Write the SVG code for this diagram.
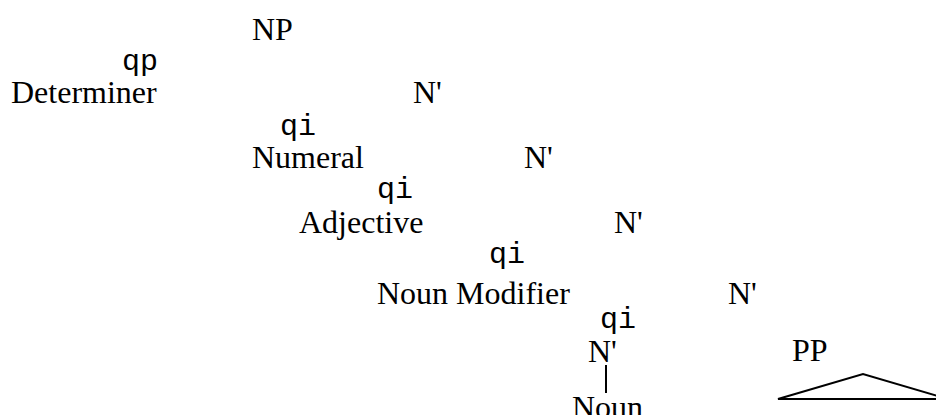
<svg xmlns="http://www.w3.org/2000/svg" width="936" height="415" viewBox="0 0 936 415">
<style>
.t{font-family:"Liberation Serif","Times New Roman",serif;font-size:32px;fill:#000}
.b{font-family:"Liberation Mono","Courier New",monospace;font-size:30px;fill:#000}
.l{stroke:#000;stroke-width:2;fill:none}
</style>
<rect width="936" height="415" fill="#fff"/>
<g id="np"><text class="t" x="252" y="40">NP</text></g>
<g id="branch1"><text class="b" x="122" y="70">qp</text></g>
<g id="determiner"><text class="t" x="11" y="103">Determiner</text></g>
<g id="nbar1"><text class="t" x="413" y="103">N'</text></g>
<g id="branch2"><text class="b" x="280" y="135">qi</text></g>
<g id="numeral"><text class="t" x="252" y="168">Numeral</text></g>
<g id="nbar2"><text class="t" x="524" y="168">N'</text></g>
<g id="branch3"><text class="b" x="377" y="198">qi</text></g>
<g id="adjective"><text class="t" x="299" y="233">Adjective</text></g>
<g id="nbar3"><text class="t" x="614" y="233">N'</text></g>
<g id="branch4"><text class="b" x="489" y="263">qi</text></g>
<g id="nounmodifier"><text class="t" x="377" y="304">Noun Modifier</text></g>
<g id="nbar4"><text class="t" x="728" y="304">N'</text></g>
<g id="branch5"><text class="b" x="600" y="328">qi</text></g>
<g id="nbar5"><text class="t" x="588" y="362">N'</text></g>
<g id="pp"><text class="t" x="792" y="361">PP</text></g>
<g id="noun"><text class="t" x="572" y="418">Noun</text></g>
<g id="connectors">
<line class="l" x1="606" y1="365" x2="606" y2="393"/>
<polygon class="l" points="778,399 863,374 948,399"/>
</g>
</svg>
